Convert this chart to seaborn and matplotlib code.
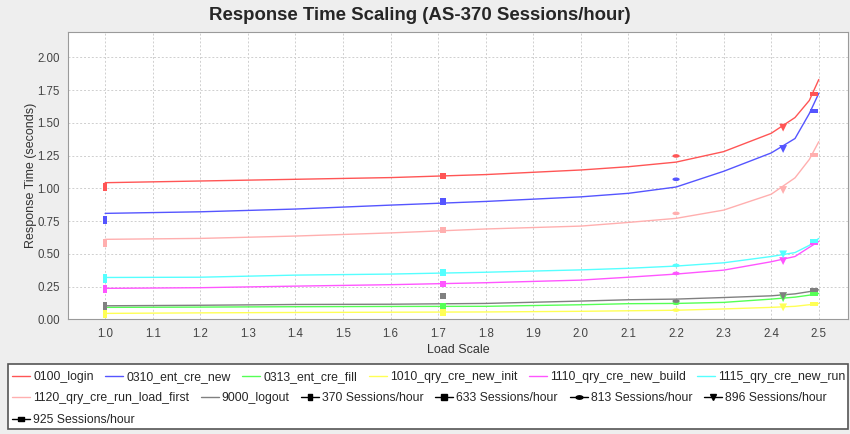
import pandas as pd
import matplotlib.pyplot as plt
import seaborn as sns
from matplotlib.lines import Line2D
from matplotlib.patches import Rectangle

sns.set_style("white")
plt.rcParams['font.family'] = ['Liberation Sans', 'DejaVu Sans']

# fitted response-time curves, read at these load-scale points
load_grid = [1.0, 1.2, 1.4, 1.6, 1.8, 2.0, 2.1, 2.2, 2.3, 2.4, 2.45, 2.48, 2.5]
curve_login = [1.043, 1.056, 1.069, 1.082, 1.105, 1.14, 1.165, 1.2, 1.28, 1.42, 1.54, 1.67, 1.83]
curve_ent_new = [0.809, 0.821, 0.842, 0.872, 0.90, 0.935, 0.962, 1.01, 1.13, 1.27, 1.38, 1.57, 1.725]
curve_ent_fill = [0.092, 0.094, 0.097, 0.099, 0.10, 0.112, 0.12, 0.122, 0.13, 0.155, 0.17, 0.185, 0.198]
curve_new_init = [0.046, 0.05, 0.053, 0.055, 0.057, 0.062, 0.066, 0.07, 0.08, 0.092, 0.10, 0.112, 0.122]
curve_new_build = [0.237, 0.242, 0.254, 0.265, 0.28, 0.30, 0.322, 0.346, 0.376, 0.44, 0.48, 0.55, 0.595]
curve_new_run = [0.32, 0.322, 0.338, 0.346, 0.36, 0.378, 0.39, 0.407, 0.432, 0.48, 0.51, 0.565, 0.618]
curve_load_first = [0.611, 0.618, 0.636, 0.66, 0.69, 0.712, 0.74, 0.771, 0.834, 0.955, 1.08, 1.22, 1.356]
curve_logout = [0.104, 0.108, 0.114, 0.116, 0.122, 0.14, 0.15, 0.155, 0.167, 0.18, 0.195, 0.212, 0.226]

# measured points, one per session rate
session_labels = ["370 Sessions/hour", "633 Sessions/hour", "813 Sessions/hour",
                  "896 Sessions/hour", "925 Sessions/hour"]
session_load = [1.0, 1.71, 2.2, 2.425, 2.49]
pts_login = [1.012, 1.094, 1.247, 1.463, 1.717]
pts_ent_new = [0.758, 0.898, 1.069, 1.30, 1.588]
pts_ent_fill = [0.092, 0.104, 0.123, 0.162, 0.192]
pts_new_init = [0.04, 0.052, 0.071, 0.092, 0.115]
pts_new_build = [0.231, 0.27, 0.351, 0.445, 0.58]
pts_new_run = [0.313, 0.359, 0.412, 0.496, 0.60]
pts_load_first = [0.585, 0.682, 0.809, 0.987, 1.257]
pts_logout = [0.10, 0.178, 0.14, 0.178, 0.228]

series_names = ["0100_login", "0310_ent_cre_new", "0313_ent_cre_fill", "1010_qry_cre_new_init",
                "1110_qry_cre_new_build", "1115_qry_cre_new_run", "1120_qry_cre_run_load_first",
                "9000_logout"]
series_colors = ["#ff5555", "#5555ff", "#55ff55", "#ffff55",
                 "#ff55ff", "#55ffff", "#ffafaf", "#808080"]
curves = [curve_login, curve_ent_new, curve_ent_fill, curve_new_init,
          curve_new_build, curve_new_run, curve_load_first, curve_logout]
points = [pts_login, pts_ent_new, pts_ent_fill, pts_new_init,
          pts_new_build, pts_new_run, pts_load_first, pts_logout]

palette = dict(zip(series_names, series_colors))

df_curves = pd.concat([pd.DataFrame({"series": n, "load": load_grid, "rt": c})
                       for n, c in zip(series_names, curves)])
df_points = pd.concat([pd.DataFrame({"series": n, "load": session_load, "rt": p,
                                     "session": session_labels})
                       for n, p in zip(series_names, points)])

# marker shapes for each session rate
tall_rect = [(-0.5, -1), (0.5, -1), (0.5, 1), (-0.5, 1), (-0.5, -1)]
wide_rect = [(-1, -0.5), (1, -0.5), (1, 0.5), (-1, 0.5), (-1, -0.5)]
flat_oval = [(-1, 0), (-0.87, 0.25), (-0.5, 0.43), (0, 0.5), (0.5, 0.43), (0.87, 0.25),
             (1, 0), (0.87, -0.25), (0.5, -0.43), (0, -0.5), (-0.5, -0.43), (-0.87, -0.25), (-1, 0)]
marker_map = dict(zip(session_labels, [tall_rect, "s", flat_oval, "v", wide_rect]))
size_map = dict(zip(session_labels, [36, 22, 28, 32, 34]))

fig = plt.figure(figsize=(8.5, 4.34), dpi=100, facecolor="#eeeeee")
ax = fig.add_axes([0.08, 0.264, 0.918, 0.663])
ax.set_facecolor("white")

sns.lineplot(data=df_curves, x="load", y="rt", hue="series", palette=palette,
             linewidth=1.0, legend=False, estimator=None, ax=ax)
sns.scatterplot(data=df_points, x="load", y="rt", hue="series", palette=palette,
                style="session", markers=marker_map, size="session", sizes=size_map,
                linewidth=0, legend=False, ax=ax, zorder=3)

ax.set_xlim(0.922, 2.562)
ax.set_ylim(0.0, 2.195)
ax.set_xticks([1.0 + 0.1 * i for i in range(16)])
ax.set_yticks([0, 0.25, 0.5, 0.75, 1.0, 1.25, 1.5, 1.75, 2.0])
ax.xaxis.set_major_formatter(plt.FormatStrFormatter("%.1f"))
ax.yaxis.set_major_formatter(plt.FormatStrFormatter("%.2f"))
ax.grid(True, color="#cfcfcf", linestyle=(0, (2, 2)), linewidth=0.7)
ax.tick_params(axis="both", labelsize=8.3, colors="#444444", length=3, width=0.6,
               direction="out", pad=3)
for s in ax.spines.values():
    s.set_color("#9a9a9a")
    s.set_linewidth(0.8)
ax.set_xlabel("Load Scale", fontsize=9, color="#333333", labelpad=3)
ax.set_ylabel("Response Time (seconds)", fontsize=9, color="#333333", labelpad=0)

fig.suptitle("Response Time Scaling (AS-370 Sessions/hour)", x=0.494, y=0.964,
             va="center", fontsize=13.4, fontweight="bold")

# legend box with three flowing rows
fig.patches.append(Rectangle((8 / 850, 5 / 434), 840 / 850, 65 / 434, transform=fig.transFigure,
                             facecolor="white", edgecolor="#555555", linewidth=1.2, zorder=0))

line_handles = [Line2D([], [], color=c, lw=1) for c in series_colors]
sess_shapes = [tall_rect, "s", flat_oval, "v", wide_rect]
sess_handles = [Line2D([], [], color="black", lw=1, marker=m, markersize=5) for m in sess_shapes]
all_handles = line_handles + sess_handles
all_labels = series_names + session_labels

rows = [(0, 6, 0.131), (6, 12, 0.083), (12, 13, 0.032)]
for start, stop, yy in rows:
    fig.legend(all_handles[start:stop], all_labels[start:stop], loc="center left",
               bbox_to_anchor=(12 / 850, yy), ncol=stop - start, frameon=False,
               fontsize=8.8, handlelength=1.47, handletextpad=0.25, columnspacing=0.95,
               borderpad=0, borderaxespad=0)

fig.savefig("out.png", dpi=100, facecolor=fig.get_facecolor())
